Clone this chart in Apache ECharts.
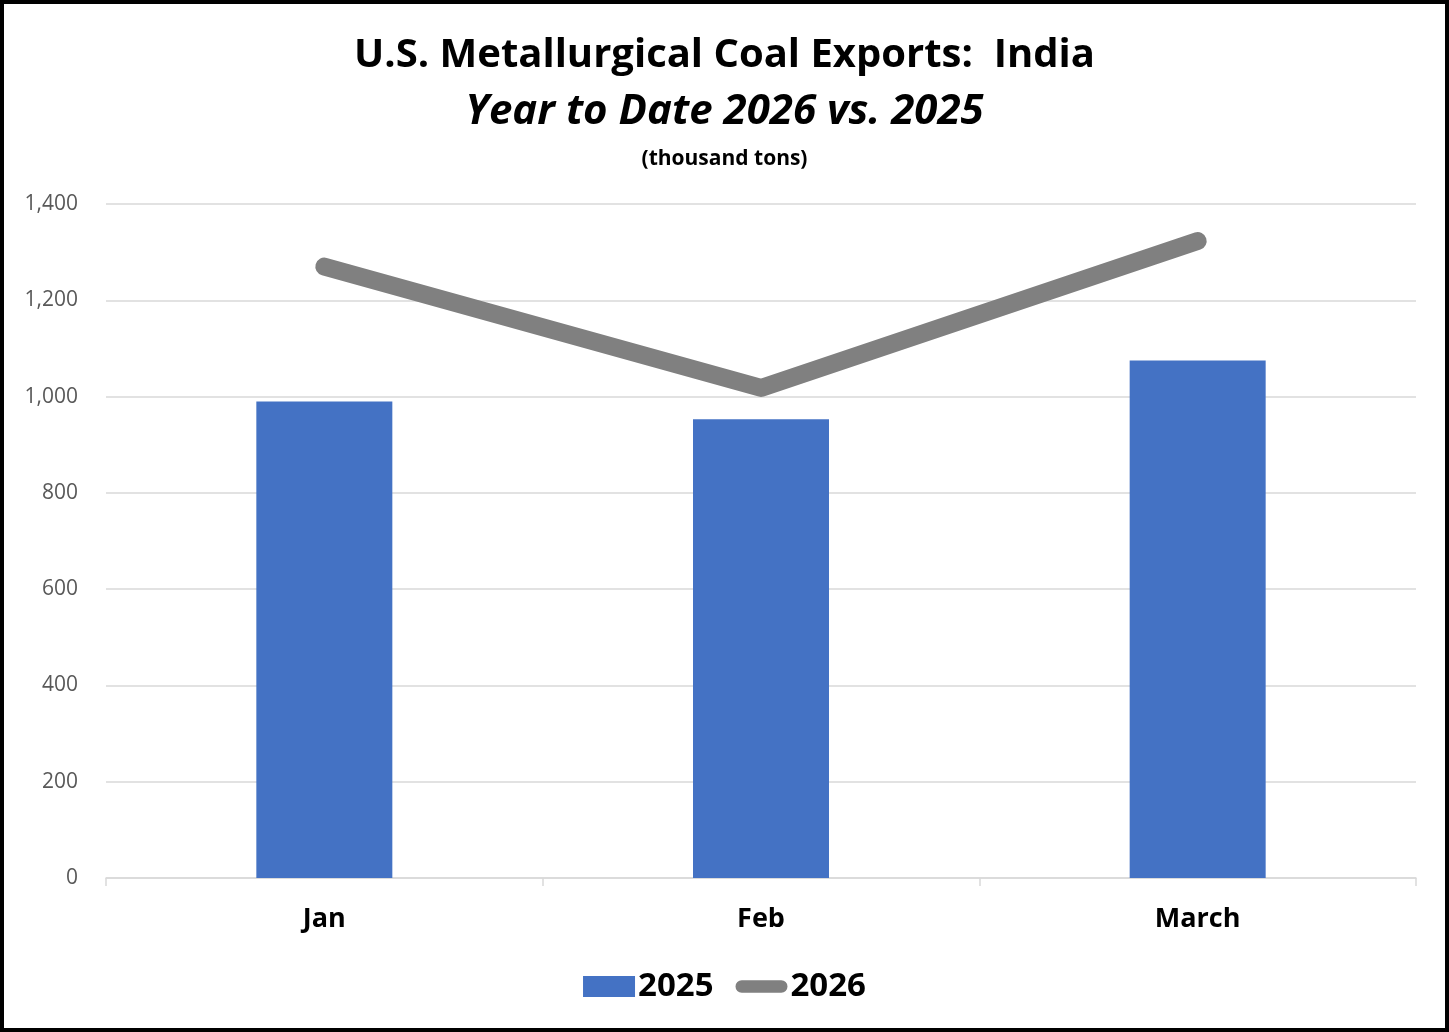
<!DOCTYPE html>
<html>
<head>
<meta charset="utf-8">
<script src="https://cdn.jsdelivr.net/npm/echarts@6/dist/echarts.min.js"></script>
<style>
  html, body { margin: 0; padding: 0; background: #fff; }
  #chart { width: 1441px; height: 1024px; border: 4px solid #000; }
</style>
</head>
<body>
<div id="chart"></div>
<script>
const months = ['Jan', 'Feb', 'March']
const exports2025 = [990, 953, 1075]
const exports2026 = [1270, 1018, 1323]
const yTicks = [0, 200, 400, 600, 800, 1000, 1200, 1400]

const fontName = 'Open Sans'
const chart = echarts.init(document.getElementById('chart'))

chart.setOption({
  animation: false,
  title: {
    left: 'center',
    top: 18,
    text: '{a|U.S. Metallurgical Coal Exports:  India}\n{b|Year to Date 2026 vs. 2025}\n{c|(thousand tons)}',
    textStyle: {
      rich: {
        a: { fontFamily: fontName, fontWeight: 'bold', fontSize: 40, color: '#000', lineHeight: 57 },
        b: { fontFamily: fontName, fontWeight: 'bold', fontStyle: 'italic', fontSize: 42, color: '#000', lineHeight: 57 },
        c: { fontFamily: fontName, fontWeight: 'bold', fontSize: 21, color: '#000', lineHeight: 36 }
      }
    }
  },
  grid: {
    left: 102,
    right: 29,
    top: 200,
    bottom: 150
  },
  legend: {
    left: 'center',
    bottom: 20,
    itemGap: 22,
    itemWidth: 52,
    itemHeight: 21,
    textStyle: { fontFamily: fontName, fontWeight: 'bold', fontSize: 33, color: '#000', padding: [0, 0, 0, -2] },
    data: [
      { name: '2025', icon: 'rect' },
      { name: '2026', icon: 'path://M8,0H59A8,8,0,0,1,59,16H8A8,8,0,0,1,8,0Z' }
    ]
  },
  xAxis: {
    type: 'category',
    data: months,
    axisLine: { lineStyle: { color: '#d9d9d9', width: 1.5 } },
    axisTick: { show: true, length: 8, lineStyle: { color: '#d9d9d9', width: 1.5 } },
    axisLabel: { fontFamily: fontName, fontWeight: 'bold', fontSize: 27, color: '#000', margin: 28 }
  },
  yAxis: {
    type: 'value',
    min: yTicks[0],
    max: yTicks[yTicks.length - 1],
    interval: 200,
    axisLine: { show: false },
    axisTick: { show: false },
    splitLine: { lineStyle: { color: '#d9d9d9', width: 1.5 } },
    axisLabel: {
      fontFamily: fontName,
      fontSize: 21,
      color: '#595959',
      margin: 28,
      formatter: v => v.toLocaleString('en-US')
    }
  },
  series: [
    {
      name: '2025',
      type: 'bar',
      data: exports2025,
      barWidth: 136,
      itemStyle: { color: '#4472C4' }
    },
    {
      name: '2026',
      type: 'line',
      data: exports2026,
      symbol: 'none',
      itemStyle: { color: '#808080' },
      lineStyle: { color: '#808080', width: 18, cap: 'round', join: 'round' }
    }
  ]
})
</script>
</body>
</html>
